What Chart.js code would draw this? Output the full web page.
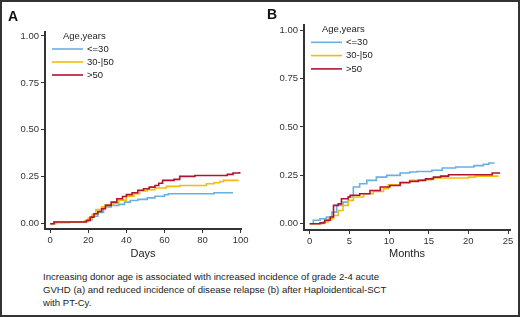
<!DOCTYPE html>
<html>
<head>
<meta charset="utf-8">
<script src="https://cdn.jsdelivr.net/npm/chart.js@4"></script>
<style>
  html, body { margin: 0; padding: 0; background: #fff; }
  #frame { position: relative; width: 520px; height: 317px; box-sizing: border-box; border: 2px solid #333; overflow: hidden; }
  canvas { position: absolute; top: -2px; }
  .panel { position: absolute; font: bold 14px "Liberation Sans", Arial, sans-serif; color: #111; }
  #caption { position: absolute; left: 41px; top: 268px; font: 9.6px "Liberation Sans", Arial, sans-serif; line-height: 13px; color: #222; white-space: nowrap; }
</style>
</head>
<body>
<div id="frame">
  <canvas id="chartA" width="260" height="265" style="left:-2px"></canvas>
  <canvas id="chartB" width="260" height="265" style="left:258px"></canvas>
  <div class="panel" style="left:6px; top:6px;">A</div>
  <div class="panel" style="left:265px; top:4px;">B</div>
  <div id="caption">Increasing donor age is associated with increased incidence of grade 2-4 acute<br>GVHD (a) and reduced incidence of disease relapse (b) after Haploidentical-SCT<br>with PT-Cy.</div>
</div>
<script>
const groups = ['<=30', '30-|50', '>50'];
const colors = ['#68b0e2', '#f3bc0c', '#b0132f'];
const yTicks = [0, 0.25, 0.5, 0.75, 1];

// Panel A: cumulative incidence by day
const daysTicks = [0, 20, 40, 60, 80, 100];
const daysBlue = [0, 2, 18, 20, 22, 25, 28, 32, 36, 39, 42, 46, 51, 55, 60, 62, 84, 86, 96];
const incBlueA = [0, 0.009, 0.012, 0.02, 0.04, 0.06, 0.089, 0.098, 0.103, 0.115, 0.124, 0.13, 0.138, 0.146, 0.154, 0.16, 0.16, 0.165, 0.165];
const daysYellow = [0, 3, 10, 18, 20, 22, 24, 27, 29, 33, 36, 40, 44, 47, 51, 55, 61, 68, 79, 82, 86, 89, 91, 99];
const incYellowA = [0, 0.005, 0.01, 0.015, 0.03, 0.05, 0.075, 0.09, 0.101, 0.11, 0.126, 0.146, 0.16, 0.175, 0.181, 0.19, 0.199, 0.204, 0.204, 0.213, 0.218, 0.225, 0.231, 0.231];
const daysRed = [0, 2, 17, 19, 21, 23, 25, 27, 29, 32, 35, 38, 40, 43, 46, 49, 52, 55, 57, 59, 65, 68, 76, 92, 93, 96, 99.5];
const incRedA = [0, 0.009, 0.009, 0.018, 0.035, 0.053, 0.065, 0.08, 0.098, 0.115, 0.133, 0.145, 0.155, 0.165, 0.178, 0.186, 0.195, 0.204, 0.216, 0.231, 0.236, 0.252, 0.257, 0.257, 0.263, 0.27, 0.275];

// Panel B: cumulative incidence by month
const monthTicks = [0, 5, 10, 15, 20, 25];
const monthsBlue = [0, 0.45, 1.3, 2.1, 2.8, 3.4, 4.2, 4.85, 5.5, 6.3, 7.2, 8.4, 9.7, 11.4, 12.6, 13.5, 15.4, 16.7, 18.4, 20.2, 20.7, 21.9, 22.6, 23.3];
const incBlueB = [0, 0.018, 0.026, 0.035, 0.06, 0.095, 0.112, 0.138, 0.19, 0.207, 0.224, 0.241, 0.25, 0.262, 0.267, 0.27, 0.276, 0.288, 0.293, 0.293, 0.3, 0.307, 0.314, 0.314];
const monthsYellow = [0, 1.7, 2.35, 3.0, 3.6, 4.2, 4.85, 5.5, 6.8, 8.0, 9.3, 9.9, 11.4, 12.6, 14.2, 15.4, 17.1, 20.0, 20.9, 23.8];
const incYellowB = [0, 0.01, 0.026, 0.043, 0.069, 0.095, 0.121, 0.138, 0.155, 0.167, 0.181, 0.201, 0.215, 0.224, 0.227, 0.236, 0.236, 0.241, 0.246, 0.246];
const monthsRed = [0, 1.3, 1.9, 2.6, 3.0, 3.6, 4.0, 4.85, 5.1, 6.3, 7.6, 8.9, 10.1, 11.4, 12.6, 13.7, 14.6, 15.6, 16.5, 17.5, 20.9, 23.0, 24.0];
const incRedB = [0, 0.005, 0.018, 0.035, 0.095, 0.103, 0.129, 0.138, 0.147, 0.155, 0.172, 0.19, 0.198, 0.212, 0.219, 0.224, 0.232, 0.241, 0.246, 0.253, 0.253, 0.262, 0.262];

function pts(xs, ys) {
  return xs.map((x, i) => ({ x: x, y: ys[i] }));
}

function series(list) {
  return list.map((s, i) => ({
    label: groups[i],
    data: pts(s[0], s[1]),
    borderColor: colors[i],
    borderWidth: 1.6,
    pointRadius: 0,
    stepped: true,
    fill: false,
    order: 3 - i
  }));
}

// small legend drawn onto the canvas (positions kept in a closure)
function ageLegend(lx, ly, gap) {
  return {
    id: 'ageLegend',
    afterDraw(chart) {
      const ctx = chart.ctx;
      ctx.save();
      ctx.font = '9.5px "Liberation Sans", Arial, sans-serif';
      ctx.fillStyle = '#222';
      ctx.textAlign = 'left';
      ctx.textBaseline = 'middle';
      ctx.fillText('Age,years', lx + 11, ly);
      chart.data.datasets.forEach((ds, i) => {
        const yy = ly + gap * (i + 1);
        ctx.strokeStyle = ds.borderColor;
        ctx.lineWidth = 1.6;
        ctx.beginPath();
        ctx.moveTo(lx, yy);
        ctx.lineTo(lx + 31, yy);
        ctx.stroke();
        ctx.fillText(ds.label, lx + 35, yy);
      });
      ctx.restore();
    }
  };
}

function makeChart(id, datasets, cfg) {
  const tickFont = { family: '"Liberation Sans", Arial, sans-serif', size: 9.5 };
  new Chart(document.getElementById(id), {
    type: 'line',
    data: { datasets: datasets },
    options: {
      responsive: false,
      animation: false,
      layout: { padding: { left: 0, top: cfg.top, right: cfg.right, bottom: 0 } },
      plugins: {
        legend: { display: false },
        tooltip: { enabled: false }
      },
      scales: {
        x: {
          type: 'linear',
          min: cfg.xMin,
          max: cfg.xMax,
          afterBuildTicks: s => { s.ticks = cfg.xTicks.map(v => ({ value: v })); },
          afterFit: s => { s.height = cfg.xHeight; },
          grid: { drawOnChartArea: false, drawTicks: true, tickLength: 4, color: '#333' },
          border: { display: true, color: '#333', width: 2 },
          ticks: { font: tickFont, color: '#333', padding: 2, maxRotation: 0 },
          title: { display: true, text: cfg.xTitle, color: '#222', padding: { top: 5 },
                   font: { family: '"Liberation Sans Narrow", "Arial Narrow", "Liberation Sans", sans-serif', size: 11 } }
        },
        y: {
          min: cfg.yMin,
          max: cfg.yMax,
          afterBuildTicks: s => { s.ticks = yTicks.map(v => ({ value: v })); },
          afterFit: s => { s.width = cfg.yWidth; },
          grid: { drawOnChartArea: false, drawTicks: true, tickLength: 4, color: '#333' },
          border: { display: true, color: '#333', width: 2 },
          ticks: { font: tickFont, color: '#333', padding: 2, callback: v => v.toFixed(2) }
        }
      }
    },
    plugins: [ageLegend(cfg.legX, cfg.legY, cfg.legGap)]
  });
}

makeChart('chartA', series([[daysBlue, incBlueA], [daysYellow, incYellowA], [daysRed, incRedA]]), {
  top: 32, right: 19, xHeight: 36, yWidth: 45,
  xMin: -2.75, xMax: 100.2, yMin: -0.028, yMax: 1.021,
  xTicks: daysTicks, xTitle: 'Days',
  legX: 52, legY: 36, legGap: 13
});

makeChart('chartB', series([[monthsBlue, incBlueB], [monthsYellow, incYellowB], [monthsRed, incRedB]]), {
  top: 25, right: 10, xHeight: 35, yWidth: 44,
  xMin: -0.72, xMax: 25.25, yMin: -0.032, yMax: 1.026,
  xTicks: monthTicks, xTitle: 'Months',
  legX: 51, legY: 29, legGap: 13.3
});
</script>
</body>
</html>
